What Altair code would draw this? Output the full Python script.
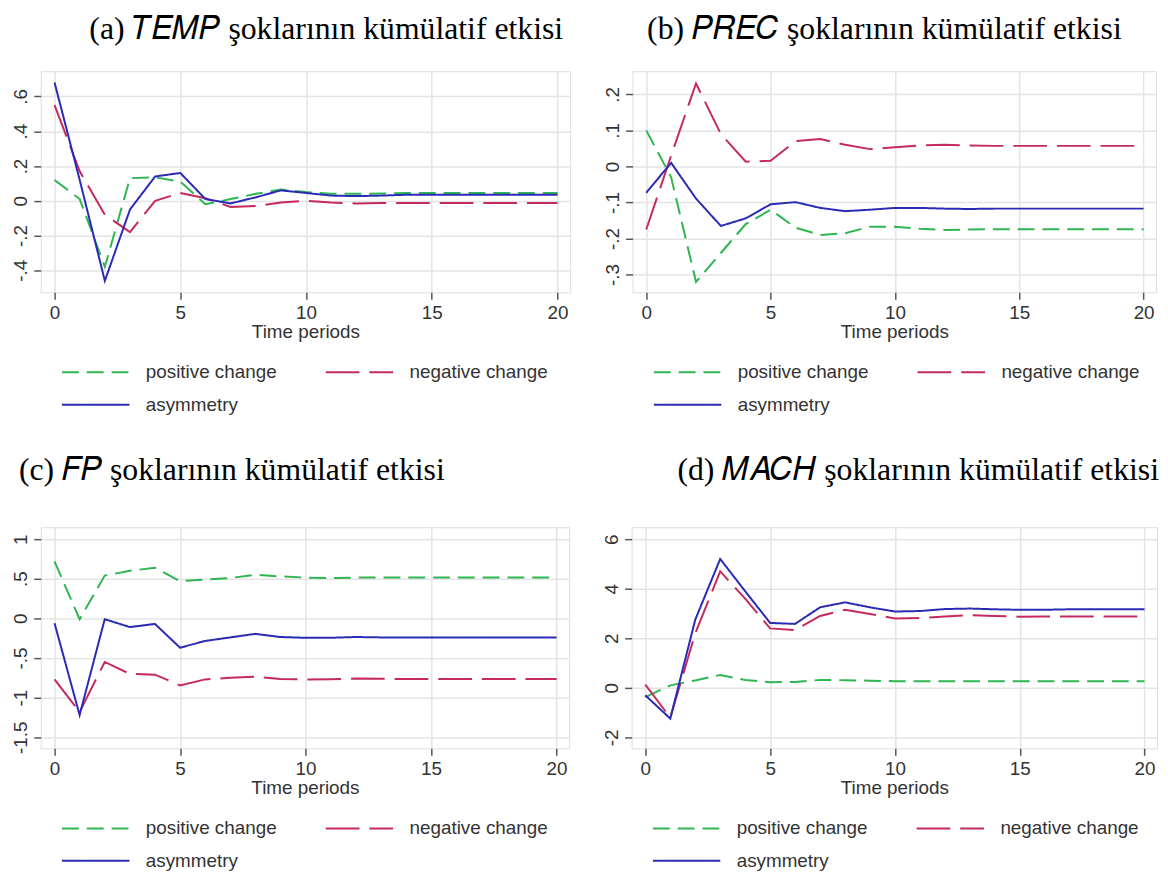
import altair as alt
import pandas as pd

periods = list(range(21))
series_names = ["positive change", "negative change", "asymmetry"]
series_colors = ["#2fb552", "#c42a5c", "#2a2ab5"]
series_dashes = [[17, 8], [34, 10], [1, 0]]

# (a) TEMP
temp_pos = [0.12, 0.01, -0.38, 0.13, 0.135, 0.11, -0.02, 0.01, 0.04, 0.065, 0.05, 0.04, 0.04,
            0.042, 0.045, 0.045, 0.045, 0.045, 0.045, 0.045, 0.045]
temp_neg = [0.55, 0.17, -0.08, -0.18, 0.0, 0.045, 0.015, -0.035, -0.03, -0.01, 0.0, -0.01, -0.015,
            -0.013, -0.012, -0.012, -0.012, -0.012, -0.012, -0.012, -0.012]
temp_asym = [0.68, 0.12, -0.46, -0.05, 0.14, 0.16, 0.01, -0.015, 0.02, 0.06, 0.045, 0.03, 0.027,
             0.03, 0.035, 0.035, 0.035, 0.035, 0.035, 0.035, 0.035]

# (b) PREC
prec_pos = [0.10, -0.03, -0.32, -0.24, -0.16, -0.12, -0.17, -0.19, -0.185, -0.167, -0.167, -0.173,
            -0.176, -0.175, -0.174, -0.174, -0.174, -0.174, -0.174, -0.174, -0.174]
prec_neg = [-0.175, 0.03, 0.23, 0.09, 0.013, 0.016, 0.07, 0.076, 0.06, 0.048, 0.053, 0.058, 0.06,
            0.058, 0.057, 0.057, 0.057, 0.057, 0.057, 0.057, 0.057]
prec_asym = [-0.073, 0.01, -0.089, -0.165, -0.144, -0.105, -0.099, -0.115, -0.124, -0.12, -0.115,
             -0.115, -0.117, -0.118, -0.117, -0.117, -0.117, -0.117, -0.117, -0.117, -0.117]

# (c) FP
fp_pos = [0.72, -0.01, 0.54, 0.60, 0.64, 0.47, 0.49, 0.51, 0.55, 0.53, 0.515, 0.51, 0.515, 0.515,
          0.515, 0.515, 0.515, 0.515, 0.515, 0.515, 0.515]
fp_neg = [-0.77, -1.18, -0.55, -0.70, -0.71, -0.845, -0.77, -0.75, -0.735, -0.765, -0.77, -0.768,
          -0.76, -0.762, -0.765, -0.765, -0.765, -0.765, -0.765, -0.765, -0.765]
fp_asym = [-0.06, -1.22, -0.01, -0.11, -0.07, -0.37, -0.285, -0.24, -0.195, -0.235, -0.245, -0.245,
           -0.235, -0.24, -0.24, -0.24, -0.24, -0.24, -0.24, -0.24, -0.24]

# (d) MACH
mach_pos = [-0.37, 0.1, 0.3, 0.52, 0.32, 0.23, 0.24, 0.32, 0.31, 0.29, 0.27, 0.27, 0.27, 0.27,
            0.27, 0.27, 0.27, 0.27, 0.27, 0.27, 0.27]
mach_neg = [0.13, -1.2, 2.2, 4.7, 3.6, 2.4, 2.33, 2.9, 3.15, 2.98, 2.8, 2.82, 2.88, 2.93, 2.9,
            2.87, 2.88, 2.88, 2.88, 2.88, 2.88]
mach_asym = [-0.3, -1.24, 2.75, 5.2, 3.9, 2.62, 2.58, 3.25, 3.45, 3.25, 3.08, 3.1, 3.18, 3.2, 3.17,
             3.15, 3.15, 3.17, 3.17, 3.17, 3.17]

x_ticks = [0, 5, 10, 15, 20]

yticks_a = [-0.4, -0.2, 0, 0.2, 0.4, 0.6]
ylabels_a = ["-.4", "-.2", "0", ".2", ".4", ".6"]
yticks_b = [-0.3, -0.2, -0.1, 0, 0.1, 0.2]
ylabels_b = ["-.3", "-.2", "-.1", "0", ".1", ".2"]
yticks_c = [-1.5, -1, -0.5, 0, 0.5, 1]
ylabels_c = ["-1.5", "-1", "-.5", "0", ".5", "1"]
yticks_d = [-2, 0, 2, 4, 6]
ylabels_d = ["-2", "0", "2", "4", "6"]

titles = [
    "(a) \U0001D447\U0001D438\U0001D440\U0001D443 şoklarının kümülatif etkisi",
    "(b) \U0001D443\U0001D445\U0001D438\U0001D436 şoklarının kümülatif etkisi",
    "(c) \U0001D439\U0001D443 şoklarının kümülatif etkisi",
    "(d) \U0001D440\U0001D434\U0001D436\U0001D43B şoklarının kümülatif etkisi",
]

SANS = "Liberation Sans"
SERIF = "Liberation Serif"
TXT = "#333333"
FS = 19


def make_df(pos, neg, asym):
    rows = []
    for name, vals in zip(series_names, [pos, neg, asym]):
        for t, v in zip(periods, vals):
            rows.append({"t": t, "v": v, "s": name})
    return pd.DataFrame(rows)


def panel(title, anchor, dx, offset, width, pos, neg, asym, ydomain, yticks, ylabels):
    df = make_df(pos, neg, asym)
    label_expr = "%s[indexof(%s, datum.value)]" % (
        "[" + ",".join("'%s'" % l for l in ylabels) + "]",
        "[" + ",".join(repr(float(v)) for v in yticks) + "]",
    )
    leg = alt.Legend(
        title=None, orient="none", legendX=46, legendY=294, columns=2,
        direction="horizontal",
        columnPadding=44, rowPadding=13, symbolType="M-4,0H4", symbolSize=289,
        symbolStrokeWidth=2, labelFontSize=FS, labelFont=SANS, labelColor=TXT,
        labelOffset=41, labelLimit=400,
    )
    return alt.Chart(df).mark_line(strokeWidth=2).encode(
        x=alt.X("t:Q",
                scale=alt.Scale(domain=[-0.55, 20.5], nice=False, zero=False),
                axis=alt.Axis(values=x_ticks, title="Time periods", format="d",
                              labelFontSize=FS, titleFontSize=FS, labelFont=SANS,
                              titleFont=SANS, titleFontWeight="normal", labelColor=TXT,
                              titleColor=TXT, tickSize=7, tickColor="#555555",
                              tickWidth=1.5, domain=False, gridColor="#e4e4e4",
                              gridWidth=1.5, labelPadding=4, titlePadding=1)),
        y=alt.Y("v:Q",
                scale=alt.Scale(domain=ydomain, nice=False, zero=False),
                axis=alt.Axis(values=yticks, labelExpr=label_expr, title=None,
                              labelAngle=270, labelAlign="center", labelBaseline="bottom",
                              labelFontSize=FS, labelFont=SANS, labelColor=TXT,
                              tickSize=7, tickColor="#555555", tickWidth=1.5,
                              domain=False, gridColor="#e4e4e4", gridWidth=1.5,
                              labelPadding=3)),
        color=alt.Color("s:N", scale=alt.Scale(domain=series_names, range=series_colors),
                        legend=leg),
        strokeDash=alt.StrokeDash("s:N", scale=alt.Scale(domain=series_names,
                                                         range=series_dashes),
                                  legend=leg),
    ).properties(
        width=width, height=223,
        title=alt.Title(title, anchor=anchor, frame="group", font=SERIF, fontSize=32,
                        fontWeight="normal", color="black", offset=offset, dx=dx),
    )


pa = panel(titles[0], "middle", 21, 26, 534, temp_pos, temp_neg, temp_asym, [-0.526, 0.745],
           yticks_a, ylabels_a)
pb = panel(titles[1], "middle", -10, 26, 528, prec_pos, prec_neg, prec_asym, [-0.349, 0.264],
           yticks_b, ylabels_b)
pc = panel(titles[2], "start", -22, 41, 533, fp_pos, fp_neg, fp_asym, [-1.64, 1.15],
           yticks_c, ylabels_c)
pd_ = panel(titles[3], "end", 2, 41, 530, mach_pos, mach_neg, mach_asym, [-2.44, 6.48],
            yticks_d, ylabels_d)

row1 = alt.hconcat(pa, pb, spacing=32).resolve_scale(color="independent", strokeDash="independent")
row2 = alt.hconcat(pc, pd_, spacing=32).resolve_scale(color="independent", strokeDash="independent")

chart = alt.vconcat(row1, row2, spacing=37).resolve_scale(
    color="independent", strokeDash="independent"
).properties(
    padding={"left": 3, "top": 0, "right": 0, "bottom": 0}
).configure_view(stroke="#555555", strokeWidth=2).configure(background="white")

chart.save("out.html", embed_options={"renderer": "svg", "actions": False})
